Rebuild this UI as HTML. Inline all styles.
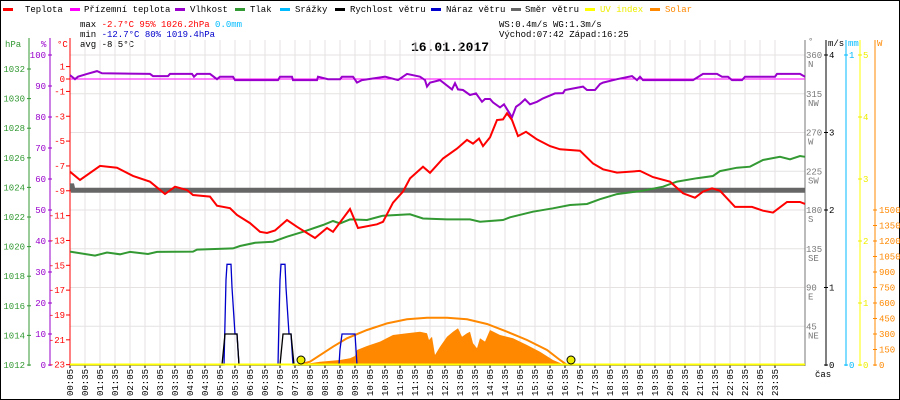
<!DOCTYPE html>
<html><head><meta charset="utf-8"><style>
html,body{margin:0;padding:0;background:#fff;}
#wrap{position:relative;width:900px;height:400px;overflow:hidden;}
svg text{font-family:"Liberation Mono",monospace;font-size:9px;}
</style></head><body>
<div id="wrap">
<svg id="chart" width="900" height="400" xmlns="http://www.w3.org/2000/svg">
<rect x="0.5" y="0.5" width="899" height="399" fill="#fff" stroke="#000"/>
<g>
<g><rect x="3" y="8" width="10" height="3" fill="#f00"/><text x="25" y="12">Teplota</text></g>
<g><rect x="70" y="8" width="10" height="3" fill="#f0f"/><text x="84" y="12">Přízemní teplota</text></g>
<g><rect x="175" y="8" width="10" height="3" fill="#90c"/><text x="190" y="12">Vlhkost</text></g>
<g><rect x="235" y="8" width="10" height="3" fill="#393"/><text x="250" y="12">Tlak</text></g>
<g><rect x="280" y="8" width="10" height="3" fill="#0bf"/><text x="295" y="12">Srážky</text></g>
<g><rect x="335" y="8" width="10" height="3" fill="#000"/><text x="350" y="12">Rychlost větru</text></g>
<g><rect x="431" y="8" width="10" height="3" fill="#00c"/><text x="446" y="12">Náraz větru</text></g>
<g><rect x="511" y="8" width="10" height="3" fill="#666"/><text x="525" y="12">Směr větru</text></g>
<g><rect x="585" y="8" width="10" height="3" fill="#ff0"/><text x="600" y="12" fill="#ee0">UV index</text></g>
<g><rect x="650" y="8" width="10" height="3" fill="#f80"/><text x="665" y="12" fill="#f80">Solar</text></g>
</g>
<g>
<text x="80" y="27">max <tspan fill="#f00">-2.7°C  95%  1026.2hPa</tspan>   <tspan fill="#0bf">0.0mm</tspan></text>
<text x="80" y="37">min <tspan fill="#00c">-12.7°C 80%  1019.4hPa</tspan></text>
<text x="80" y="47">avg -8.5°C</text>
<text x="499" y="27">WS:0.4m/s   WG:1.3m/s</text>
<text x="499" y="37">Východ:07:42 Západ:16:25</text>
</g>
<text x="450" y="51" text-anchor="middle" style="font-size:13px;font-weight:bold">16.01.2017</text>
<g id="grid"></g>
<g id="axes"></g>
<g id="series"></g>
</svg>
</div>
<script>
// ---- data (time in minutes of day) ----
const tempTimes = [5,25,65,99,131,165,195,215,239,251,285,299,325,339,365,385,399,415,439,459,495,519,531,565,581,619,631,651,671,685,711,725,751,779,799,811,823,831,845,859,871,879,889,901,917,939,965,985,1025,1051,1071,1099,1145,1171,1205,1231,1255,1271,1289,1305,1335,1369,1391,1411,1439,1465,1475];
const tempValues = [-7.46,-8.13,-7.0,-7.14,-7.8,-8.27,-9.26,-8.67,-8.94,-9.34,-9.47,-10.2,-10.4,-10.95,-11.6,-12.3,-12.4,-12.2,-11.35,-11.9,-12.8,-12.0,-12.3,-10.47,-12.0,-11.7,-11.5,-9.96,-9.07,-8.0,-7.06,-7.55,-6.4,-5.6,-4.9,-5.2,-4.8,-5.4,-4.7,-3.3,-3.25,-2.76,-3.3,-4.6,-4.25,-4.86,-5.4,-5.66,-5.77,-6.8,-7.27,-7.54,-7.4,-7.9,-8.27,-9.2,-9.56,-9.07,-8.8,-9.0,-10.3,-10.3,-10.6,-10.76,-9.9,-9.9,-10.06];
const apparentTimes = [5,1475];
const apparentValues = [0,0];
const pressTimes = [5,55,79,105,125,161,179,251,259,331,345,375,411,439,471,511,531,545,565,599,631,685,711,745,759,805,825,871,885,931,971,1005,1039,1065,1099,1151,1191,1219,1259,1291,1305,1339,1365,1391,1425,1445,1465,1475];
const pressValues = [1019.66,1019.39,1019.6,1019.48,1019.64,1019.5,1019.64,1019.66,1019.8,1019.88,1020.04,1020.26,1020.33,1020.67,1021.0,1021.46,1021.73,1021.57,1021.84,1021.8,1022.09,1022.18,1021.9,1021.86,1021.84,1021.84,1021.68,1021.8,1021.98,1022.36,1022.59,1022.81,1022.88,1023.2,1023.55,1023.78,1024.05,1024.39,1024.62,1024.77,1025.1,1025.33,1025.4,1025.85,1026.07,1025.9,1026.12,1026.07];
const humTimes = [5,15,21,39,59,69,165,171,201,205,249,253,259,285,299,305,331,335,421,425,449,451,499,501,521,545,549,571,579,589,635,661,679,705,715,719,725,745,769,775,781,791,805,817,829,835,845,851,865,873,889,897,905,915,925,939,951,975,991,995,1031,1039,1055,1065,1071,1099,1129,1139,1145,1151,1251,1271,1299,1309,1321,1329,1349,1355,1415,1419,1465,1475];
const humValues = [93.5,92.2,93,93.9,94.8,94.1,93.9,93.2,93.2,93.9,93.9,93,93.9,93.9,92.2,93,93,91.9,91.9,93,93,91.9,91.9,93,92.2,92.2,93,93,91.1,91.9,93,91.9,93.9,93,91.9,89.8,91.1,91.9,88.9,90.9,88.9,88.7,87.1,87.6,84.9,85.8,85.8,84.7,83.1,84.1,79.9,83.3,84.2,85.7,84.1,84.9,86,87.6,87.7,88.7,89.8,88.7,88.7,90.6,91.1,92.2,93.2,91.9,93,91.9,91.9,93.9,93.9,93,93,91.9,91.9,93,93,93.9,93.9,93];
const windTimes = [5,309,315,339,343,425,431,447,453,1475];
const windValues = [0,0,0.4,0.4,0,0,0.4,0.4,0,0];
const gustTimes = [5,313,317,319,327,329,333,335,339,341,343,421,423,425,427,435,437,439,441,443,447,451,543,545,549,575,577,579,1475];
const gustValues = [0,0,1.1,1.3,1.3,1.0,0.6,0.4,0.4,0.2,0,0,0.6,1.1,1.3,1.3,1.0,0.8,0.6,0.4,0.4,0,0,0.2,0.4,0.4,0.2,0,0];
const dirTimes = [5,9,11,1475];
const dirValues = [208,208,203,203];
const solarTimes = [471,485,505,545,565,575,579,599,625,651,679,705,719,723,729,735,745,759,771,781,789,799,805,811,819,825,835,845,865,891,919,945,971,995];
const solarValues = [0,16,32,48,65,87,145,184,226,290,307,322,307,242,274,97,177,274,322,355,274,307,322,210,162,258,226,339,290,258,194,129,48,0];
const clearTimes = [461,485,531,559,599,639,679,719,759,799,839,879,919,959,985,999];
const clearValues = [0,32,177,258,339,403,442,458,458,442,397,322,242,145,48,0];
const sunTimes = [467,1007];
const xTickLabels = [];
for (let h=0; h<24; h++){ const hh=String(h).padStart(2,'0'); xTickLabels.push(hh+':05'); xTickLabels.push(hh+':35'); }
const pressTicks = [1012,1014,1016,1018,1020,1022,1024,1026,1028,1030,1032];
const humTicks = [0,10,20,30,40,50,60,70,80,90,100];
const tempTicks = [1,0,-1,-3,-5,-7,-9,-11,-13,-15,-17,-19,-21,-23];
const dirTicks = [45,90,135,180,225,270,315,360];
const dirNames = ['NE','E','SE','S','SW','W','NW','N'];
const windTicks = [0,1,2,3,4];
const uvTicks = [0,1,2,3,4,5];
const solarTicks = [0,150,300,450,600,750,900,1050,1200,1350,1500];

// ---- scales ----
const X = m => 70 + (m-5)*0.5;
const yT = t => 79 - t*12.42;
const yP = p => 365 - (p-1012)*14.8;
const yH = h => 365 - h*3.1;
const yD = d => 365 - d*310/360;
const yW = w => 365 - w*77.5;
const yU = u => 365 - u*62;
const yS = s => 365 - s*155/1500;
const NS='http://www.w3.org/2000/svg';
function mk(parent, tag, attrs, txt){ const e=document.createElementNS(NS,tag); for(const k in attrs) e.setAttribute(k,attrs[k]); if(txt!==undefined) e.textContent=txt; parent.appendChild(e); return e; }
const grid=document.getElementById('grid'), axes=document.getElementById('axes'), series=document.getElementById('series');

// grid
xTickLabels.forEach((lab,i)=>{ const x=X(5+i*30);
  const l=mk(grid,'line',{x1:x,y1:40,x2:x,y2:365,stroke:'#e6e2e2','stroke-width':1});
   
  mk(axes,'line',{x1:x,y1:365,x2:x,y2:368,stroke:'#000'});
  const t=mk(axes,'text',{x:0,y:0,transform:`translate(${x+3},396) rotate(-90)`},lab);
   
});
dirTicks.forEach(d=>{ const y=yD(d);
  const l=mk(grid,'line',{x1:70,y1:y,x2:805,y2:y,stroke:'#e6e2e2','stroke-width':1});
   
});

// left axes
mk(axes,'line',{x1:29,y1:38,x2:29,y2:366,stroke:'#393'});
mk(axes,'line',{x1:50,y1:38,x2:50,y2:366,stroke:'#90c'});
mk(axes,'line',{x1:70,y1:38,x2:70,y2:366,stroke:'#f00'});
mk(axes,'text',{x:5,y:47,fill:'#393'},'hPa');
mk(axes,'text',{x:41,y:47,fill:'#90c'},'%');
mk(axes,'text',{x:57,y:47,fill:'#f00'},'°C');
pressTicks.forEach(p=>{ const y=yP(p); mk(axes,'line',{x1:27,y1:y,x2:31,y2:y,stroke:'#393'});
  const t=mk(axes,'text',{x:25,y:y+3,fill:'#393','text-anchor':'end'},p);
    });
humTicks.forEach(h=>{ const y=yH(h); mk(axes,'line',{x1:48,y1:y,x2:52,y2:y,stroke:'#90c'});
  const t=mk(axes,'text',{x:46,y:y+3,fill:'#90c','text-anchor':'end'},h);
    });
tempTicks.forEach(v=>{ const y=yT(v); mk(axes,'line',{x1:66,y1:y,x2:70,y2:y,stroke:'#f00'});
  const t=mk(axes,'text',{x:65,y:y+3,fill:'#f00','text-anchor':'end'},v);
    });

// right axes
mk(axes,'line',{x1:805,y1:40,x2:805,y2:366,stroke:'#777'});
mk(axes,'line',{x1:826,y1:40,x2:826,y2:366,stroke:'#000'});
mk(axes,'line',{x1:846,y1:40,x2:846,y2:366,stroke:'#0bf'});
mk(axes,'line',{x1:860,y1:40,x2:860,y2:366,stroke:'#ff0'});
mk(axes,'line',{x1:875,y1:40,x2:875,y2:366,stroke:'#f80'});
mk(axes,'text',{x:808,y:44,fill:'#777'},'°');
mk(axes,'text',{x:828,y:46},'m/s');
mk(axes,'text',{x:848,y:46,fill:'#0bf'},'mm');
mk(axes,'text',{x:877,y:46,fill:'#f80'},'W');
dirTicks.forEach((d,i)=>{ const y=yD(d);
  const t=mk(axes,'text',{x:806,y:y+3,fill:'#777'},d);  
  mk(axes,'text',{x:808,y:y+12,fill:'#777'},dirNames[i]); });
windTicks.forEach(w=>{ const y=yW(w); mk(axes,'line',{x1:824,y1:y,x2:828,y2:y,stroke:'#000'});
  const t=mk(axes,'text',{x:829,y:y+3},w);   });
[0,1].forEach(v=>{ const y=365-v*310; mk(axes,'line',{x1:844,y1:y,x2:848,y2:y,stroke:'#0bf'}); mk(axes,'text',{x:849,y:y+3,fill:'#0bf'},v); });
uvTicks.forEach(u=>{ const y=yU(u); mk(axes,'line',{x1:858,y1:y,x2:862,y2:y,stroke:'#ee0'});
  const t=mk(axes,'text',{x:863,y:y+3,fill:'#ee0'},u);   });
solarTicks.forEach(s=>{ const y=yS(s); mk(axes,'line',{x1:873,y1:y,x2:877,y2:y,stroke:'#f80'});
  const t=mk(axes,'text',{x:879,y:y+3,fill:'#f80'},s);   });
mk(axes,'text',{x:815,y:377},'čas');

// series
function pts(ts,vs,fy){ return ts.map((t,i)=>X(t).toFixed(1)+','+fy(vs[i]).toFixed(1)).join(' '); }
const solarArea = mk(series,'polygon',{points:X(solarTimes[0])+',365 '+pts(solarTimes,solarValues,yS)+' '+X(solarTimes[solarTimes.length-1])+',365',fill:'#f80'});
 
const clear = mk(series,'polyline',{points:pts(clearTimes,clearValues,yS),fill:'none',stroke:'#f80','stroke-width':2});
 
const zero = mk(series,'line',{x1:70,y1:yT(0),x2:805,y2:yT(0),stroke:'#333','stroke-width':1});
 
const app = mk(series,'polyline',{points:pts(apparentTimes,apparentValues,yT),fill:'none',stroke:'#f0f','stroke-width':1});
 
const dir = mk(series,'polyline',{points:pts(dirTimes,dirValues,yD),fill:'none',stroke:'#666','stroke-width':5});
 
const pr = mk(series,'polyline',{points:pts(pressTimes,pressValues,yP),fill:'none',stroke:'#393','stroke-width':2});
 
const hm = mk(series,'polyline',{points:pts(humTimes,humValues,yH),fill:'none',stroke:'#90c','stroke-width':2});
 
const tp = mk(series,'polyline',{points:pts(tempTimes,tempValues,yT),fill:'none',stroke:'#f00','stroke-width':2});
 
const gs = mk(series,'polyline',{points:pts(gustTimes,gustValues,yW),fill:'none',stroke:'#00c','stroke-width':1.3});
 
const ws = mk(series,'polyline',{points:pts(windTimes,windValues,yW),fill:'none',stroke:'#000','stroke-width':1.3});
 
mk(series,'line',{x1:70,y1:365,x2:805,y2:365,stroke:'#000','stroke-width':1});
const uv = mk(series,'line',{x1:70,y1:364.5,x2:805,y2:364.5,stroke:'#ff0','stroke-width':2});
 
sunTimes.forEach(t=>{ const c=mk(series,'circle',{cx:X(t),cy:360,r:4,fill:'#ee0',stroke:'#000','stroke-width':1});
    });
</script>
</body></html>
